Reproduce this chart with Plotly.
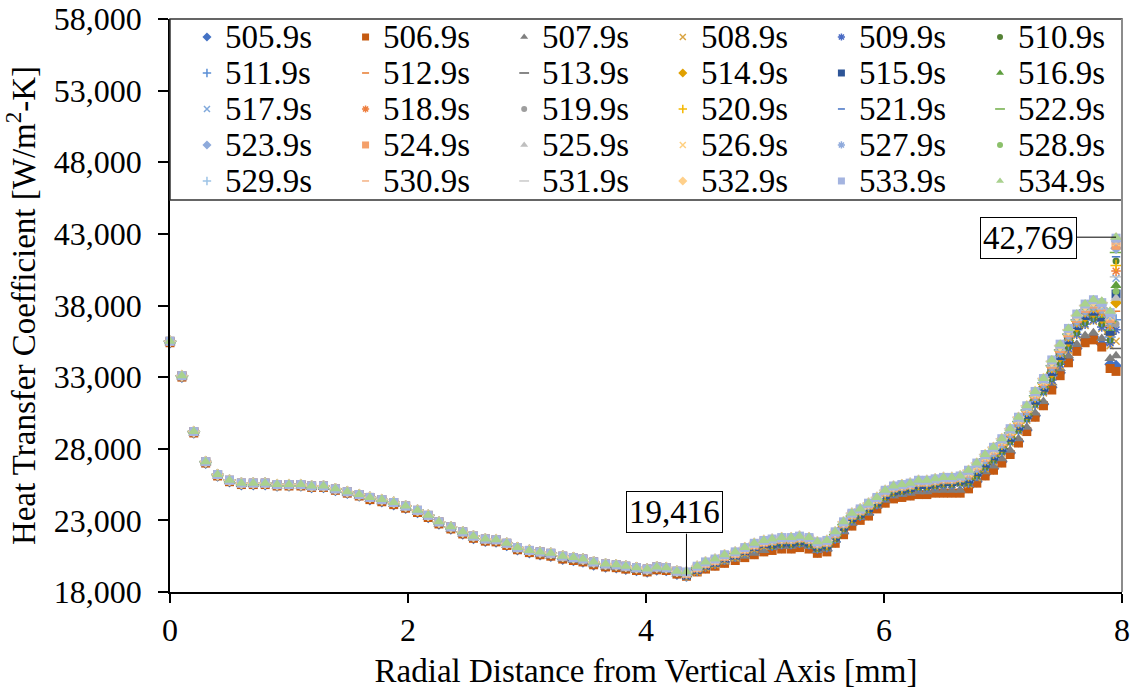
import plotly.graph_objects as go

FONT = "'Liberation Serif', 'Times New Roman', Times, serif"

# radial positions of the wall nodes [mm]
radius_mm = [
    0.00, 0.10, 0.20, 0.30, 0.40, 0.50, 0.60, 0.70, 0.80, 0.90,
    1.00, 1.10, 1.19, 1.29, 1.39, 1.49, 1.59, 1.68, 1.78, 1.88,
    1.98, 2.08, 2.17, 2.26, 2.36, 2.46, 2.55, 2.65, 2.74, 2.83,
    2.92, 3.02, 3.11, 3.20, 3.30, 3.39, 3.47, 3.56, 3.66, 3.75,
    3.83, 3.92, 4.01, 4.09, 4.17, 4.26,
    4.34, 4.43, 4.50, 4.58, 4.66, 4.75, 4.83, 4.91, 4.99,
    5.06, 5.14, 5.22, 5.29, 5.37, 5.44, 5.52, 5.59, 5.66, 5.73,
    5.80, 5.87, 5.94, 6.01, 6.08, 6.15, 6.22, 6.29, 6.36, 6.43,
    6.50, 6.57, 6.64,
    6.71, 6.78, 6.85, 6.92, 6.99, 7.06, 7.13, 7.20, 7.27, 7.34,
    7.41, 7.48, 7.55, 7.62, 7.69, 7.76,
    7.83, 7.90, 7.95,
]

# HTC [kW/m2-K] on the inner nodes (r <= 4.26 mm), where the time steps coincide
htc_inner = [
    35.5, 33.1, 29.2, 27.1, 26.2, 25.8, 25.6, 25.6, 25.6, 25.5,
    25.5, 25.5, 25.4, 25.4, 25.2, 25.0, 24.8, 24.6, 24.45, 24.25,
    24.0, 23.7, 23.35, 22.9, 22.55, 22.2, 21.9, 21.7, 21.65, 21.4,
    21.1, 20.9, 20.8, 20.7, 20.5, 20.4, 20.3, 20.1, 19.95, 19.9,
    19.8, 19.7, 19.6, 19.75, 19.7, 19.45,
]
# first three time steps sit slightly lower on the inner nodes
htc_inner_early = [
    35.4, 33.0, 29.1, 27.0, 26.1, 25.7, 25.5, 25.5, 25.5, 25.4,
    25.4, 25.4, 25.3, 25.3, 25.1, 24.9, 24.7, 24.45, 24.3, 24.1,
    23.85, 23.55, 23.2, 22.75, 22.4, 22.05, 21.75, 21.55, 21.5, 21.25,
    20.95, 20.75, 20.6, 20.5, 20.3, 20.2, 20.1, 19.9, 19.75, 19.7,
    19.6, 19.5, 19.4, 19.55, 19.5, 19.25,
]

# HTC [kW/m2-K] on the outer nodes (r >= 4.34 mm), one list per time step
tail_505_9 = [19.2, 19.5, 19.7, 19.9, 20.1, 20.3, 20.5, 20.7, 20.9,
              21.0, 21.1, 21.1, 21.2, 21.1, 20.8, 20.9, 21.5, 22.1, 22.7, 23.1, 23.4, 23.9, 24.3, 24.6, 24.7, 24.8, 24.9, 24.9, 25.0, 25.0, 25.0, 25.0,
              25.3, 25.7, 26.2, 26.6, 27.1, 27.7, 28.5, 29.3, 30.3, 31.1,
              32.3, 33.3, 34.2, 35.0, 35.6, 35.8, 35.3, 33.9, 33.8]
tail_506_9 = [19.1, 19.4, 19.6, 19.8, 20.0, 20.2, 20.4, 20.6, 20.8,
              20.9, 21.0, 21.0, 21.1, 21.0, 20.7, 20.8, 21.4, 22.0, 22.6, 23.0, 23.3, 23.8, 24.2, 24.5, 24.6, 24.7, 24.8, 24.8, 24.9, 24.9, 24.9, 24.9,
              25.2, 25.6, 26.1, 26.5, 27.0, 27.6, 28.4, 29.2, 30.2, 31.0,
              32.1, 33.1, 34.0, 34.8, 35.4, 35.6, 35.1, 33.6, 33.4]
tail_507_9 = [19.2, 19.5, 19.7, 19.9, 20.1, 20.3, 20.5, 20.7, 20.9,
              21.1, 21.2, 21.2, 21.3, 21.2, 20.9, 21.0, 21.6, 22.2, 22.8, 23.2, 23.5, 24.0, 24.4, 24.7, 24.8, 24.9, 25.0, 25.0, 25.1, 25.1, 25.1, 25.1,
              25.5, 25.9, 26.4, 26.8, 27.3, 27.9, 28.7, 29.5, 30.5, 31.3,
              32.6, 33.6, 34.5, 35.3, 35.9, 36.1, 35.7, 34.3, 34.5]
tail_508_9 = [19.1, 19.4, 19.7, 19.9, 20.2, 20.4, 20.7, 21.0, 21.2,
              21.2, 21.3, 21.3, 21.4, 21.3, 21.0, 21.1, 21.7, 22.4, 23.0, 23.3, 23.7, 24.1, 24.6, 24.9, 25.0, 25.1, 25.3, 25.3, 25.4, 25.5, 25.5, 25.6,
              25.5, 26.0, 26.6, 27.1, 27.7, 28.4, 29.2, 30.0, 31.0, 31.9,
              32.7, 33.8, 34.9, 35.9, 36.6, 36.9, 36.4, 35.2, 35.5]
tail_509_9 = [19.1, 19.5, 19.8, 20.0, 20.3, 20.5, 20.8, 21.1, 21.3,
              21.2, 21.3, 21.3, 21.4, 21.3, 21.0, 21.1, 21.7, 22.4, 23.0, 23.3, 23.7, 24.1, 24.6, 24.9, 25.0, 25.1, 25.3, 25.3, 25.4, 25.5, 25.5, 25.6,
              25.6, 26.1, 26.7, 27.2, 27.8, 28.5, 29.3, 30.1, 31.1, 32.0,
              32.8, 33.9, 35.0, 36.0, 36.7, 37.0, 36.5, 35.4, 36.3]
tail_510_9 = [19.1, 19.5, 19.8, 20.0, 20.3, 20.5, 20.8, 21.1, 21.3,
              21.2, 21.3, 21.3, 21.4, 21.3, 21.0, 21.1, 21.7, 22.4, 23.0, 23.3, 23.7, 24.1, 24.6, 24.9, 25.0, 25.1, 25.3, 25.3, 25.4, 25.5, 25.5, 25.6,
              25.6, 26.1, 26.7, 27.2, 27.8, 28.5, 29.3, 30.1, 31.1, 32.0,
              32.9, 34.0, 35.1, 36.1, 36.8, 37.1, 36.7, 35.6, 41.1]
tail_511_9 = [19.1, 19.5, 19.8, 20.0, 20.3, 20.5, 20.8, 21.1, 21.3,
              21.3, 21.4, 21.4, 21.5, 21.4, 21.1, 21.2, 21.8, 22.5, 23.1, 23.4, 23.8, 24.2, 24.7, 25.0, 25.1, 25.2, 25.4, 25.4, 25.5, 25.6, 25.6, 25.7,
              25.7, 26.2, 26.8, 27.3, 27.9, 28.6, 29.4, 30.2, 31.2, 32.1,
              33.1, 34.2, 35.3, 36.3, 37.0, 37.3, 36.9, 35.8, 37.0]
tail_512_9 = [19.1, 19.5, 19.8, 20.0, 20.3, 20.5, 20.8, 21.1, 21.3,
              21.3, 21.4, 21.4, 21.5, 21.4, 21.1, 21.2, 21.8, 22.5, 23.1, 23.4, 23.8, 24.2, 24.7, 25.0, 25.1, 25.2, 25.4, 25.4, 25.5, 25.6, 25.6, 25.7,
              25.8, 26.3, 26.9, 27.4, 28.0, 28.7, 29.5, 30.3, 31.3, 32.2,
              33.2, 34.3, 35.4, 36.4, 37.1, 37.4, 37.0, 35.9, 37.6]
tail_513_9 = [19.2, 19.6, 19.9, 20.1, 20.4, 20.6, 20.9, 21.2, 21.4,
              21.3, 21.4, 21.4, 21.5, 21.4, 21.1, 21.2, 21.8, 22.5, 23.1, 23.4, 23.8, 24.2, 24.7, 25.0, 25.1, 25.2, 25.4, 25.4, 25.5, 25.6, 25.6, 25.7,
              25.8, 26.3, 26.9, 27.4, 28.0, 28.7, 29.5, 30.3, 31.3, 32.2,
              33.2, 34.3, 35.4, 36.4, 37.1, 37.4, 37.0, 36.0, 35.0]
tail_514_9 = [19.2, 19.6, 19.9, 20.1, 20.4, 20.6, 20.9, 21.2, 21.4,
              21.4, 21.5, 21.5, 21.6, 21.5, 21.2, 21.3, 21.9, 22.6, 23.2, 23.5, 23.9, 24.3, 24.8, 25.1, 25.2, 25.3, 25.5, 25.5, 25.6, 25.7, 25.7, 25.8,
              25.9, 26.4, 27.0, 27.5, 28.1, 28.8, 29.6, 30.4, 31.4, 32.3,
              33.3, 34.4, 35.5, 36.5, 37.2, 37.5, 37.1, 36.1, 38.2]
tail_515_9 = [19.2, 19.6, 19.9, 20.1, 20.4, 20.6, 20.9, 21.2, 21.4,
              21.4, 21.5, 21.5, 21.6, 21.5, 21.2, 21.3, 21.9, 22.6, 23.2, 23.5, 23.9, 24.3, 24.8, 25.1, 25.2, 25.3, 25.5, 25.5, 25.6, 25.7, 25.7, 25.8,
              25.9, 26.4, 27.0, 27.5, 28.1, 28.8, 29.6, 30.4, 31.4, 32.3,
              33.4, 34.5, 35.6, 36.6, 37.3, 37.6, 37.2, 36.2, 38.8]
tail_516_9 = [19.2, 19.6, 19.9, 20.1, 20.4, 20.6, 20.9, 21.2, 21.4,
              21.4, 21.5, 21.5, 21.6, 21.5, 21.2, 21.3, 21.9, 22.6, 23.2, 23.5, 23.9, 24.3, 24.8, 25.1, 25.2, 25.3, 25.5, 25.5, 25.6, 25.7, 25.7, 25.8,
              26.0, 26.5, 27.1, 27.6, 28.2, 28.9, 29.7, 30.5, 31.5, 32.4,
              33.5, 34.6, 35.7, 36.7, 37.4, 37.7, 37.3, 36.4, 39.4]
tail_517_9 = [19.2, 19.6, 19.9, 20.1, 20.4, 20.6, 20.9, 21.2, 21.4,
              21.5, 21.6, 21.6, 21.7, 21.6, 21.3, 21.4, 22.0, 22.7, 23.3, 23.6, 24.0, 24.4, 24.9, 25.2, 25.3, 25.4, 25.6, 25.6, 25.7, 25.8, 25.8, 25.9,
              26.0, 26.5, 27.1, 27.6, 28.2, 28.9, 29.7, 30.5, 31.5, 32.4,
              33.5, 34.6, 35.7, 36.7, 37.4, 37.7, 37.4, 36.5, 39.9]
tail_518_9 = [19.2, 19.6, 19.9, 20.1, 20.4, 20.6, 20.9, 21.2, 21.4,
              21.5, 21.6, 21.6, 21.7, 21.6, 21.3, 21.4, 22.0, 22.7, 23.3, 23.6, 24.0, 24.4, 24.9, 25.2, 25.3, 25.4, 25.6, 25.6, 25.7, 25.8, 25.8, 25.9,
              26.1, 26.6, 27.2, 27.7, 28.3, 29.0, 29.8, 30.6, 31.6, 32.5,
              33.6, 34.7, 35.8, 36.8, 37.5, 37.8, 37.5, 36.6, 40.4]
tail_519_9 = [19.3, 19.7, 20.0, 20.2, 20.5, 20.7, 21.0, 21.3, 21.5,
              21.5, 21.6, 21.6, 21.7, 21.6, 21.3, 21.4, 22.0, 22.7, 23.3, 23.6, 24.0, 24.4, 24.9, 25.2, 25.3, 25.4, 25.6, 25.6, 25.7, 25.8, 25.8, 25.9,
              26.1, 26.6, 27.2, 27.7, 28.3, 29.0, 29.8, 30.6, 31.6, 32.5,
              33.6, 34.7, 35.8, 36.8, 37.5, 37.8, 37.6, 36.7, 36.7]
tail_520_9 = [19.3, 19.7, 20.0, 20.2, 20.5, 20.7, 21.0, 21.3, 21.5,
              21.5, 21.6, 21.6, 21.7, 21.6, 21.3, 21.4, 22.0, 22.7, 23.3, 23.6, 24.0, 24.4, 24.9, 25.2, 25.3, 25.4, 25.6, 25.6, 25.7, 25.8, 25.8, 25.9,
              26.1, 26.6, 27.2, 27.7, 28.3, 29.0, 29.8, 30.6, 31.6, 32.5,
              33.7, 34.8, 35.9, 36.9, 37.6, 37.9, 37.6, 36.8, 40.8]
tail_521_9 = [19.3, 19.7, 20.0, 20.2, 20.5, 20.7, 21.0, 21.3, 21.5,
              21.5, 21.6, 21.6, 21.7, 21.6, 21.3, 21.4, 22.0, 22.7, 23.3, 23.6, 24.0, 24.4, 24.9, 25.2, 25.3, 25.4, 25.6, 25.6, 25.7, 25.8, 25.8, 25.9,
              26.2, 26.7, 27.3, 27.8, 28.4, 29.1, 29.9, 30.7, 31.7, 32.6,
              33.7, 34.8, 35.9, 36.9, 37.6, 37.9, 37.7, 36.8, 41.4]
tail_522_9 = [19.3, 19.7, 20.0, 20.2, 20.5, 20.7, 21.0, 21.3, 21.5,
              21.5, 21.6, 21.6, 21.7, 21.6, 21.3, 21.4, 22.0, 22.7, 23.3, 23.6, 24.0, 24.4, 24.9, 25.2, 25.3, 25.4, 25.6, 25.6, 25.7, 25.8, 25.8, 25.9,
              26.2, 26.7, 27.3, 27.8, 28.4, 29.1, 29.9, 30.7, 31.7, 32.6,
              33.8, 34.9, 36.0, 37.0, 37.7, 38.0, 37.8, 36.9, 41.7]
tail_523_9 = [19.3, 19.7, 20.0, 20.2, 20.5, 20.7, 21.0, 21.3, 21.5,
              21.6, 21.7, 21.7, 21.8, 21.7, 21.4, 21.5, 22.1, 22.8, 23.4, 23.7, 24.1, 24.5, 25.0, 25.3, 25.4, 25.5, 25.7, 25.7, 25.8, 25.9, 25.9, 26.0,
              26.2, 26.7, 27.3, 27.8, 28.4, 29.1, 29.9, 30.7, 31.7, 32.6,
              33.8, 34.9, 36.0, 37.0, 37.7, 38.0, 37.8, 37.0, 42.0]
tail_524_9 = [19.3, 19.7, 20.0, 20.2, 20.5, 20.7, 21.0, 21.3, 21.5,
              21.6, 21.7, 21.7, 21.8, 21.7, 21.4, 21.5, 22.1, 22.8, 23.4, 23.7, 24.1, 24.5, 25.0, 25.3, 25.4, 25.5, 25.7, 25.7, 25.8, 25.9, 25.9, 26.0,
              26.3, 26.8, 27.4, 27.9, 28.5, 29.2, 30.0, 30.8, 31.8, 32.7,
              33.9, 35.0, 36.1, 37.1, 37.8, 38.1, 37.9, 37.1, 42.2]
tail_525_9 = [19.3, 19.7, 20.0, 20.2, 20.5, 20.7, 21.0, 21.3, 21.5,
              21.6, 21.7, 21.7, 21.8, 21.7, 21.4, 21.5, 22.1, 22.8, 23.4, 23.7, 24.1, 24.5, 25.0, 25.3, 25.4, 25.5, 25.7, 25.7, 25.8, 25.9, 25.9, 26.0,
              26.3, 26.8, 27.4, 27.9, 28.5, 29.2, 30.0, 30.8, 31.8, 32.7,
              33.9, 35.0, 36.1, 37.1, 37.8, 38.1, 37.9, 37.2, 38.5]
tail_526_9 = [19.3, 19.7, 20.0, 20.2, 20.5, 20.7, 21.0, 21.3, 21.5,
              21.6, 21.7, 21.7, 21.8, 21.7, 21.4, 21.5, 22.1, 22.8, 23.4, 23.7, 24.1, 24.5, 25.0, 25.3, 25.4, 25.5, 25.7, 25.7, 25.8, 25.9, 25.9, 26.0,
              26.3, 26.8, 27.4, 27.9, 28.5, 29.2, 30.0, 30.8, 31.8, 32.7,
              34.0, 35.1, 36.2, 37.2, 37.9, 38.2, 38.0, 37.2, 42.4]
tail_527_9 = [19.4, 19.8, 20.1, 20.3, 20.6, 20.8, 21.1, 21.4, 21.6,
              21.6, 21.7, 21.7, 21.8, 21.7, 21.4, 21.5, 22.1, 22.8, 23.4, 23.7, 24.1, 24.5, 25.0, 25.3, 25.4, 25.5, 25.7, 25.7, 25.8, 25.9, 25.9, 26.0,
              26.4, 26.9, 27.5, 28.0, 28.6, 29.3, 30.1, 30.9, 31.9, 32.8,
              34.0, 35.1, 36.2, 37.2, 37.9, 38.2, 38.0, 37.3, 42.5]
tail_528_9 = [19.4, 19.8, 20.1, 20.3, 20.6, 20.8, 21.1, 21.4, 21.6,
              21.6, 21.7, 21.7, 21.8, 21.7, 21.4, 21.5, 22.1, 22.8, 23.4, 23.7, 24.1, 24.5, 25.0, 25.3, 25.4, 25.5, 25.7, 25.7, 25.8, 25.9, 25.9, 26.0,
              26.4, 26.9, 27.5, 28.0, 28.6, 29.3, 30.1, 30.9, 31.9, 32.8,
              34.0, 35.1, 36.2, 37.2, 37.9, 38.2, 38.1, 37.4, 39.0]
tail_529_9 = [19.4, 19.8, 20.1, 20.3, 20.6, 20.8, 21.1, 21.4, 21.6,
              21.7, 21.8, 21.8, 21.9, 21.8, 21.5, 21.6, 22.2, 22.9, 23.5, 23.8, 24.2, 24.6, 25.1, 25.4, 25.5, 25.6, 25.8, 25.8, 25.9, 26.0, 26.0, 26.1,
              26.4, 26.9, 27.5, 28.0, 28.6, 29.3, 30.1, 30.9, 31.9, 32.8,
              34.1, 35.2, 36.3, 37.3, 38.0, 38.3, 38.1, 37.4, 42.6]
tail_530_9 = [19.4, 19.8, 20.1, 20.3, 20.6, 20.8, 21.1, 21.4, 21.6,
              21.7, 21.8, 21.8, 21.9, 21.8, 21.5, 21.6, 22.2, 22.9, 23.5, 23.8, 24.2, 24.6, 25.1, 25.4, 25.5, 25.6, 25.8, 25.8, 25.9, 26.0, 26.0, 26.1,
              26.4, 26.9, 27.5, 28.0, 28.6, 29.3, 30.1, 30.9, 31.9, 32.8,
              34.1, 35.2, 36.3, 37.3, 38.0, 38.3, 38.2, 37.4, 42.3]
tail_531_9 = [19.4, 19.8, 20.1, 20.3, 20.6, 20.8, 21.1, 21.4, 21.6,
              21.7, 21.8, 21.8, 21.9, 21.8, 21.5, 21.6, 22.2, 22.9, 23.5, 23.8, 24.2, 24.6, 25.1, 25.4, 25.5, 25.6, 25.8, 25.8, 25.9, 26.0, 26.0, 26.1,
              26.5, 27.0, 27.6, 28.1, 28.7, 29.4, 30.2, 31.0, 32.0, 32.9,
              34.1, 35.2, 36.3, 37.3, 38.0, 38.3, 38.2, 37.5, 40.0]
tail_532_9 = [19.4, 19.8, 20.1, 20.3, 20.6, 20.8, 21.1, 21.4, 21.6,
              21.7, 21.8, 21.8, 21.9, 21.8, 21.5, 21.6, 22.2, 22.9, 23.5, 23.8, 24.2, 24.6, 25.1, 25.4, 25.5, 25.6, 25.8, 25.8, 25.9, 26.0, 26.0, 26.1,
              26.5, 27.0, 27.6, 28.1, 28.7, 29.4, 30.2, 31.0, 32.0, 32.9,
              34.1, 35.2, 36.3, 37.3, 38.0, 38.3, 38.2, 37.5, 42.7]
tail_533_9 = [19.4, 19.8, 20.1, 20.3, 20.6, 20.8, 21.1, 21.4, 21.6,
              21.7, 21.8, 21.8, 21.9, 21.8, 21.5, 21.6, 22.2, 22.9, 23.5, 23.8, 24.2, 24.6, 25.1, 25.4, 25.5, 25.6, 25.8, 25.8, 25.9, 26.0, 26.0, 26.1,
              26.5, 27.0, 27.6, 28.1, 28.7, 29.4, 30.2, 31.0, 32.0, 32.9,
              34.2, 35.3, 36.4, 37.4, 38.1, 38.4, 38.2, 37.5, 42.7]
tail_534_9 = [19.416, 19.8, 20.1, 20.3, 20.6, 20.8, 21.1, 21.4, 21.6,
              21.7, 21.8, 21.8, 21.9, 21.8, 21.5, 21.6, 22.2, 22.9, 23.5, 23.8, 24.2, 24.6, 25.1, 25.4, 25.5, 25.6, 25.8, 25.8, 25.9, 26.0, 26.0, 26.1,
              26.5, 27.0, 27.6, 28.1, 28.7, 29.4, 30.2, 31.0, 32.0, 32.9,
              34.2, 35.3, 36.4, 37.4, 38.1, 38.4, 38.3, 37.6, 42.769]

time_labels = [
    "505.9s", "506.9s", "507.9s", "508.9s", "509.9s", "510.9s",
    "511.9s", "512.9s", "513.9s", "514.9s", "515.9s", "516.9s",
    "517.9s", "518.9s", "519.9s", "520.9s", "521.9s", "522.9s",
    "523.9s", "524.9s", "525.9s", "526.9s", "527.9s", "528.9s",
    "529.9s", "530.9s", "531.9s", "532.9s", "533.9s", "534.9s",
]
tails = [
    tail_505_9, tail_506_9, tail_507_9, tail_508_9, tail_509_9, tail_510_9,
    tail_511_9, tail_512_9, tail_513_9, tail_514_9, tail_515_9, tail_516_9,
    tail_517_9, tail_518_9, tail_519_9, tail_520_9, tail_521_9, tail_522_9,
    tail_523_9, tail_524_9, tail_525_9, tail_526_9, tail_527_9, tail_528_9,
    tail_529_9, tail_530_9, tail_531_9, tail_532_9, tail_533_9, tail_534_9,
]

colors = [
    "#4472C4", "#C55A11", "#7F7F7F", "#D9A441", "#4A6BC4", "#548235",
    "#5B8FD5", "#E87A2E", "#606060", "#E0A000", "#2E5597", "#5E9E3E",
    "#7FA8DB", "#EE7E3E", "#9E9E9E", "#F5B800", "#4472C4", "#70AD47",
    "#8EAADB", "#F4A06A", "#BFBFBF", "#FFD080", "#8FAADC", "#8BC06A",
    "#9DC3E6", "#F4B183", "#C9C9C9", "#FFD08A", "#A4B4E0", "#A9D18E",
]
symbols = ["diamond", "square", "triangle-up", "x-thin", "asterisk",
           "circle", "cross-thin", "line-ew", "line-ew"]
sizes = [9, 9, 10, 7, 8, 7, 8, 6, 9]
legend_sizes = [7, 7, 7, 6, 6, 6, 6, 5, 7]
line_symbols = {"x-thin", "asterisk", "cross-thin", "line-ew"}


def marker_for(i, size_table):
    sym = symbols[i % 9]
    c = colors[i]
    size = size_table[i % 9]
    if sym in line_symbols:
        return dict(symbol=sym, size=size, color=c, line=dict(color=c, width=1.5))
    return dict(symbol=sym, size=size, color=c, line=dict(width=0))


fig = go.Figure()

series_w = []
for i, (name, tail) in enumerate(zip(time_labels, tails)):
    inner = htc_inner_early if i < 3 else htc_inner
    y_w = [round(v * 1000) for v in inner + tail]
    series_w.append(y_w)
    fig.add_trace(go.Scatter(
        x=radius_mm, y=y_w, mode="markers", name=name,
        marker=marker_for(i, sizes), cliponaxis=False, showlegend=False,
        hovertemplate=name + "<br>r=%{x} mm<br>h=%{y:,}<extra></extra>",
    ))

# legend grid: 6 columns x 5 rows drawn on a hidden overlay axis
ncol = 6
annotations = []
for i, name in enumerate(time_labels):
    col, row = i % ncol, i // ncol
    fig.add_trace(go.Scatter(
        x=[col], y=[-row], xaxis="x2", yaxis="y2", mode="markers",
        marker=marker_for(i, legend_sizes), showlegend=False, hoverinfo="skip",
    ))
    annotations.append(dict(
        x=col + 0.1, y=-row, xref="x2", yref="y2", text=name,
        showarrow=False, xanchor="left", yanchor="middle",
        font=dict(family=FONT, size=33, color="black"),
    ))

# value callouts for the labelled points of the last time step
last = series_w[-1]
i_min = 46
i_max = len(last) - 1
box_font = dict(family=FONT, size=33, color="black")
annotations.append(dict(
    x=radius_mm[i_min], y=last[i_min], xref="x", yref="y",
    text=f"{last[i_min]:,}", showarrow=False, xshift=-12, yshift=60,
    bordercolor="black", borderwidth=1, borderpad=2, bgcolor="white",
    font=box_font,
))
annotations.append(dict(
    x=radius_mm[i_max], y=last[i_max], xref="x", yref="y",
    text=f"{last[i_max]:,}", showarrow=False, xshift=-88, yshift=-1,
    bordercolor="black", borderwidth=1, borderpad=2, bgcolor="white",
    font=box_font,
))

shapes = [
    # leader lines of the callouts
    dict(type="line", xref="x", yref="y", ysizemode="pixel",
         yanchor=last[i_min], x0=radius_mm[i_min], x1=radius_mm[i_min],
         y0=-4, y1=38, line=dict(color="black", width=1)),
    dict(type="line", xref="x", yref="y", xsizemode="pixel",
         xanchor=radius_mm[i_max], x0=-40, x1=0,
         y0=last[i_max], y1=last[i_max], line=dict(color="black", width=1)),
    # legend frame
    dict(type="rect", xref="paper", yref="paper", x0=0, x1=1, y0=0.684, y1=1,
         line=dict(color="#333333", width=1.5), fillcolor="rgba(0,0,0,0)"),
    # right border of the plot area
    dict(type="line", xref="paper", yref="paper", x0=1, x1=1, y0=0, y1=1,
         line=dict(color="#8c8c8c", width=2)),
]

fig.update_layout(
    width=1139, height=693,
    margin=dict(l=170, r=17, t=19, b=101),
    paper_bgcolor="white", plot_bgcolor="white",
    font=dict(family=FONT, size=32, color="black"),
    showlegend=False,
    annotations=annotations,
    shapes=shapes,
    xaxis=dict(
        range=[0, 8], tickvals=[0, 2, 4, 6, 8], ticks="outside", ticklen=9,
        tickwidth=1.5, tickcolor="black", showline=True, linecolor="black",
        linewidth=1.5, showgrid=False, zeroline=False, automargin=False,
        tickfont=dict(family=FONT, size=32),
        title=dict(text="Radial Distance from Vertical Axis [mm]",
                   font=dict(family=FONT, size=33), standoff=12),
    ),
    yaxis=dict(
        range=[18000, 58000], tickvals=list(range(18000, 58001, 5000)),
        tickformat=",d", ticks="outside", ticklen=10, tickwidth=1.5,
        tickcolor="black", showline=True, linecolor="black", linewidth=1.5,
        showgrid=False, zeroline=False, automargin=False,
        ticklabelstandoff=10,
        tickfont=dict(family=FONT, size=32),
        title=dict(text="Heat Transfer Coefficient [W/m<sup>2</sup>-K]",
                   font=dict(family=FONT, size=33), standoff=10),
    ),
    xaxis2=dict(overlaying="x", anchor="y2", range=[-0.233, 5.769],
                visible=False, fixedrange=True),
    yaxis2=dict(overlaying="y", anchor="x2", range=[-15.42, 0.5],
                visible=False, fixedrange=True),
)

fig.write_html("out.html")
